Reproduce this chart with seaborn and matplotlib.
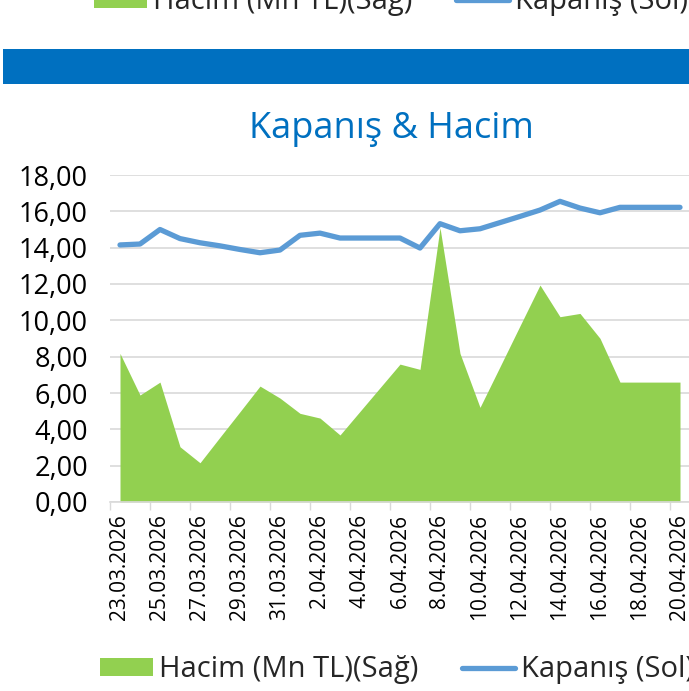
import numpy as np
import pandas as pd
import matplotlib
matplotlib.use("Agg")
import matplotlib.pyplot as plt
import seaborn as sns
from matplotlib.patches import Patch, Rectangle
from matplotlib.lines import Line2D
from matplotlib.ticker import FixedLocator, FuncFormatter

# === Données ===
dates = ["23.03.2026", "24.03.2026", "25.03.2026", "26.03.2026", "27.03.2026",
         "28.03.2026", "29.03.2026", "30.03.2026", "31.03.2026", "1.04.2026",
         "2.04.2026", "3.04.2026", "4.04.2026", "5.04.2026", "6.04.2026",
         "7.04.2026", "8.04.2026", "9.04.2026", "10.04.2026", "11.04.2026",
         "12.04.2026", "13.04.2026", "14.04.2026", "15.04.2026", "16.04.2026",
         "17.04.2026", "18.04.2026", "19.04.2026", "20.04.2026"]
kapanis = [14.15, 14.2, 15.0, 14.5, 14.27, 14.1, 13.9, 13.72, 13.87, 14.68,
           14.8, 14.53, 14.53, 14.53, 14.53, 13.98, 15.32, 14.93, 15.04, 15.38,
           15.72, 16.07, 16.55, 16.18, 15.92, 16.22, 16.22, 16.22, 16.22]
hacim = [8.18, 5.89, 6.6, 3.04, 2.16, 3.57, 4.97, 6.38, 5.72, 4.88,
         4.62, 3.69, 4.99, 6.29, 7.59, 7.3, 15.1, 8.18, 5.21, 7.45,
         9.7, 11.94, 10.2, 10.38, 9.01, 6.6, 6.6, 6.6, 6.6]
yticks = [0, 2, 4, 6, 8, 10, 12, 14, 16, 18]

df = pd.DataFrame({"idx": np.arange(len(dates)), "date": dates,
                   "kapanis": kapanis, "hacim": hacim})

green = "#92D050"
blue_line = "#5B9BD5"
blue_dark = "#0070C0"

sns.set_theme(style="white")
plt.rcParams["font.family"] = ["Open Sans", "DejaVu Sans"]

W, H = 689, 691
fig = plt.figure(figsize=(W / 100, H / 100), dpi=100)
ax = fig.add_axes([110 / W, (H - 502) / H, 580 / W, 327 / H])

# === Aire + courbe ===
ax.fill_between(df["idx"], 0, df["hacim"], color=green, linewidth=0, zorder=2)
sns.lineplot(data=df, x="idx", y="kapanis", ax=ax, color=blue_line,
             linewidth=3.8, solid_capstyle="round", zorder=3, legend=False)

ax.set_xlim(-0.5, 28.5)
ax.set_ylim(0, 18)
ax.set_xlabel("")
ax.set_ylabel("")

# axe Y
ax.yaxis.set_major_locator(FixedLocator(yticks))
ax.yaxis.set_major_formatter(FuncFormatter(lambda v, p: f"{v:.2f}".replace(".", ",")))
ax.tick_params(axis="y", length=0, pad=16, labelsize=19.5, labelcolor="#000000")
ax.grid(axis="y", color="#D9D9D9", linewidth=1.2, zorder=0)
ax.set_axisbelow(True)

# axe X : étiquettes tous les 2 jours, graduations entre catégories
label_pos = list(range(0, len(dates), 2))
ax.set_xticks(label_pos)
ax.set_xticklabels([dates[i] for i in label_pos], rotation=90, fontsize=15, color="#000000")
ax.set_xticks([i - 0.5 for i in label_pos], minor=True)
ax.tick_params(axis="x", which="major", length=0, pad=8.5)
ax.tick_params(axis="x", which="minor", length=6, width=1, color="#D9D9D9", bottom=True)

for s in ["top", "right", "left"]:
    ax.spines[s].set_visible(False)
ax.spines["bottom"].set_color("#D9D9D9")
ax.spines["bottom"].set_linewidth(1.2)

# === Titre et bandeau ===
fig.text(391 / W, 1 - 138 / H, "Kapanış & Hacim", ha="center", va="baseline",
         fontsize=26, color=blue_dark)
fig.patches.append(Rectangle((3 / W, (H - 84) / H), 1, 35 / H, transform=fig.transFigure,
                             facecolor=blue_dark, edgecolor="none"))

# === Légendes ===
handles = [Patch(facecolor=green, edgecolor="none", label="Hacim (Mn TL)(Sağ)"),
           Line2D([0], [0], color=blue_line, linewidth=3.8, solid_capstyle="round",
                  label="Kapanış (Sol)")]
leg_kw = dict(ncol=2, frameon=False, fontsize=21, handlelength=1.82, handleheight=0.55,
              handletextpad=0.2, columnspacing=1.5, borderpad=0, borderaxespad=0)
fig.legend(handles=handles, loc="center left", bbox_to_anchor=(100 / W, 1 - 670 / H), **leg_kw)
fig.legend(handles=handles, loc="center left", bbox_to_anchor=(94 / W, 1 - 2 / H), **leg_kw)

fig.savefig("out.png", dpi=100)
